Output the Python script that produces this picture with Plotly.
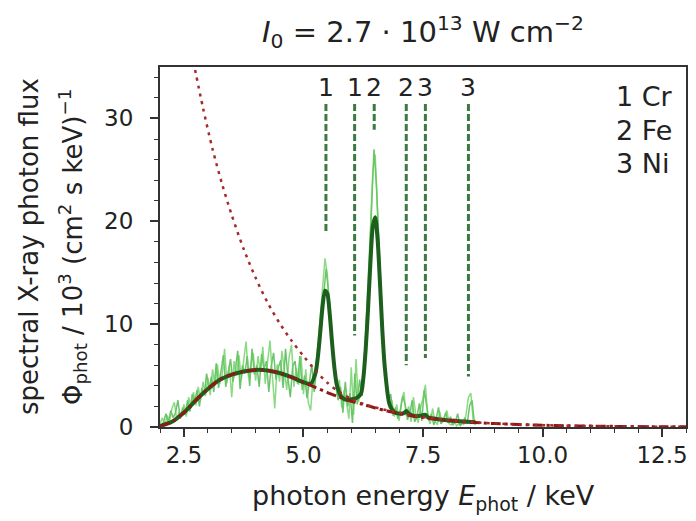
import plotly.graph_objects as go

# ---- measured X-ray spectra (two shots), channel width 0.05 keV ----
spec_a_start = 2.0
spec_b_start = 2.025
spec_step = 0.05
spec_a = [
    0.3, 0.9, 0.2, 1.1, 0.6, 1.8, 2.4, 0.7, 1.5, 1.0,
    2.2, 1.0, 2.9, 1.8, 3.4, 2.1, 3.9, 2.6, 4.4, 3.0,
    4.8, 3.1, 5.6, 4.0, 6.1, 4.2, 5.0, 7.6, 4.3, 6.0,
    2.9, 6.4, 5.0, 7.0, 4.6, 6.6, 8.3, 4.9, 5.9, 7.2,
    4.5, 6.9, 5.3, 7.8, 4.2, 6.2, 8.4, 5.0, 1.8, 6.1,
    4.4, 7.4, 5.2, 3.6, 6.8, 8.0, 3.9, 5.7, 4.1, 6.9,
    3.2, 5.6, 2.4, 1.6, 4.7, 5.5, 7.8, 10.6, 14.2, 16.4,
    14.8, 11.2, 7.4, 5.9, 3.2, 4.6, 1.9, 3.6, 2.4, 0.8,
    5.8, 1.2, 6.6, 2.4, 3.8, 5.1, 8.9, 13.6, 19.2, 24.8,
    26.5, 21.0, 15.2, 10.1, 5.2, 4.0, 1.8, 2.6, 1.0, 2.2,
    0.6, 2.4, 3.4, 1.1, 2.0, 0.5, 2.9, 1.2, 0.4, 1.9,
    2.8, 4.1, 1.0, 0.3, 1.8, 0.6, 0.2, 1.5, 0.4, 0.9,
    1.6, 0.3, 0.2, 0.8, 0.1, 0.3, 0.6, 0.2, 1.2, 2.9,
    3.3, 0.6, 0.2,
]
spec_b = [
    0.0, 0.5, 1.3, 0.4, 1.6, 0.9, 1.4, 2.6, 0.8, 1.9,
    1.2, 2.6, 1.5, 3.2, 2.4, 3.6, 2.0, 3.8, 3.1, 5.2,
    3.6, 4.9, 3.4, 6.2, 3.8, 5.4, 7.0, 3.9, 5.5, 6.6,
    4.4, 5.5, 7.4, 3.7, 6.0, 5.2, 6.9, 4.0, 7.6, 5.1,
    6.0, 3.9, 7.1, 5.6, 6.4, 3.4, 5.9, 7.2, 4.6, 5.8,
    6.5, 3.8, 7.6, 4.8, 2.9, 5.9, 6.4, 4.2, 6.9, 3.6,
    5.0, 2.8, 4.4, 6.1, 3.4, 5.9, 8.6, 11.2, 13.0, 15.4,
    13.1, 9.0, 7.2, 4.1, 2.6, 3.9, 1.4, 4.4, 2.0, 3.3,
    0.4, 5.2, 2.2, 4.6, 3.0, 6.4, 10.2, 15.1, 21.4, 27.0,
    23.6, 17.8, 12.2, 7.0, 5.1, 2.5, 3.2, 1.1, 1.9, 0.8,
    1.6, 3.0, 2.2, 0.7, 1.4, 2.6, 0.5, 1.0, 2.3, 0.6,
    3.6, 1.9, 0.6, 1.3, 0.2, 0.8, 1.9, 0.3, 0.7, 1.4,
    0.4, 1.0, 0.2, 0.5, 1.3, 0.1, 0.4, 0.9, 0.3, 2.1,
    2.6, 0.4,
]

# ---- fitted spectrum (continuum + K lines) ----
fit_e = [2.0, 2.25, 2.5, 2.75, 3.0, 3.25, 3.5, 3.75, 4.0, 4.25,
         4.5, 4.75, 5.0, 5.15, 5.25, 5.3, 5.35, 5.4, 5.45, 5.5,
         5.55, 5.6, 5.65, 5.7, 5.8, 5.9, 6.0, 6.1, 6.2, 6.25,
         6.3, 6.35, 6.4, 6.45, 6.5, 6.55, 6.6, 6.65, 6.7, 6.8,
         6.9, 7.0, 7.1, 7.15, 7.2, 7.35, 7.5, 7.55, 7.6, 7.75,
         8.0, 8.25, 8.6]
fit_v = [0.1, 0.5, 1.4, 2.6, 3.7, 4.6, 5.1, 5.4, 5.55, 5.5,
         5.25, 4.85, 4.35, 4.2, 5.2, 6.75, 9.15, 11.75, 13.25, 12.95,
         10.95, 8.1, 5.65, 4.05, 2.9, 2.65, 2.7, 2.8, 3.2, 4.65,
         7.45, 11.4, 15.95, 19.5, 20.4, 18.3, 14.05, 9.4, 5.85, 2.2,
         1.45, 1.3, 1.35, 1.55, 1.3, 1.05, 1.15, 1.2, 0.95, 0.8,
         0.65, 0.56, 0.45]

# ---- bremsstrahlung continuum behind the filter ----
cont_e = [2.0, 2.25, 2.5, 2.75, 3.0, 3.25, 3.5, 3.75, 4.0, 4.25,
          4.5, 4.75, 5.0, 5.25, 5.5, 5.75, 6.0, 6.25, 6.5, 6.75,
          7.0, 7.25, 7.5, 7.75, 8.0, 8.5, 9.0, 9.5, 10.0, 10.5,
          11.0, 11.5, 12.0, 12.5, 13.0]
cont_v = [0.1, 0.5, 1.4, 2.6, 3.7, 4.6, 5.1, 5.4, 5.55, 5.5,
          5.25, 4.85, 4.35, 3.85, 3.35, 2.9, 2.5, 2.2, 1.85, 1.55,
          1.3, 1.1, 0.92, 0.77, 0.65, 0.46, 0.33, 0.24, 0.17, 0.12,
          0.09, 0.06, 0.04, 0.03, 0.02]

# ---- unattenuated bremsstrahlung ----
brems_e = [2.7, 2.9, 3.1, 3.3, 3.5, 3.75, 4.0, 4.25, 4.5, 4.75,
           5.0, 5.25, 5.5, 5.75, 6.0, 6.25, 6.5, 7.0, 7.5, 8.0,
           8.5, 9.0, 10.0, 11.0, 12.0, 13.0]
brems_v = [35.5, 31.0, 27.0, 23.6, 20.6, 17.3, 14.5, 12.1, 10.1, 8.4,
           6.9, 5.5, 4.3, 3.4, 2.75, 2.25, 1.9, 1.38, 0.97, 0.68,
           0.48, 0.34, 0.18, 0.09, 0.045, 0.025]

# ---- characteristic line positions (keV) and marker extents ----
line_e = [5.47, 6.07, 6.48, 7.15, 7.55, 8.45]
line_label = ["1", "1", "2", "2", "3", "3"]
line_bottom = [19.0, 8.9, 28.9, 6.0, 6.7, 4.9]
line_top = 31.4
elements = ["1 Cr", "2 Fe", "3 Ni"]

spec_a_e = [round(spec_a_start + spec_step * i, 3) for i in range(len(spec_a))]
spec_b_e = [round(spec_b_start + spec_step * i, 3) for i in range(len(spec_b))]

FONT = "DejaVu Sans, Liberation Sans, Arial, sans-serif"
TXT = "#222222"
AX = "#333333"

fig = go.Figure()

fig.add_trace(go.Scatter(x=spec_b_e, y=spec_b, mode="lines",
                         line=dict(color="rgba(60,175,60,0.75)", width=1.5)))
fig.add_trace(go.Scatter(x=spec_a_e, y=spec_a, mode="lines",
                         line=dict(color="rgba(100,205,90,0.75)", width=1.5)))
fig.add_trace(go.Scatter(x=fit_e, y=fit_v, mode="lines",
                         line=dict(color="#1d5f1d", width=4, shape="spline", smoothing=0.7)))
fig.add_trace(go.Scatter(x=cont_e, y=cont_v, mode="lines",
                         line=dict(color="#8e1a18", width=3, dash="10px,4px,3px,4px",
                                   shape="spline", smoothing=0.8)))
fig.add_trace(go.Scatter(x=brems_e, y=brems_v, mode="lines",
                         line=dict(color="#a52a2a", width=2.5, dash="3px,5px",
                                   shape="spline", smoothing=0.8)))

# vertical dashed markers for the K lines
vx, vy = [], []
for e, b in zip(line_e, line_bottom):
    vx += [e, e, None]
    vy += [line_top, b, None]
fig.add_trace(go.Scatter(x=vx, y=vy, mode="lines",
                         line=dict(color="#3c7a42", width=3, dash="7px,3px")))

annotations = []
for e, lab in zip(line_e, line_label):
    annotations.append(dict(x=e, y=33.0, xref="x", yref="y", text=lab, showarrow=False,
                            xanchor="center", yanchor="middle",
                            font=dict(family=FONT, size=25, color=TXT)))

for i, t in enumerate(elements):
    annotations.append(dict(x=(616 - 160) / 528, y=1 - (96 + 34 * i - 67) / 360,
                            xref="paper", yref="paper", text=t, showarrow=False,
                            xanchor="left", yanchor="middle",
                            font=dict(family=FONT, size=27, color=TXT)))

# axis titles
annotations.append(dict(x=0.5, y=0, xref="paper", yref="paper", yshift=-70,
                        text="photon energy <i>E</i><sub>phot</sub> / keV", showarrow=False,
                        xanchor="center", yanchor="middle",
                        font=dict(family=FONT, size=27, color=TXT)))
annotations.append(dict(x=0, y=0.5, xref="paper", yref="paper", xshift=-131,
                        text="spectral X-ray photon flux", textangle=-90, showarrow=False,
                        xanchor="center", yanchor="middle",
                        font=dict(family=FONT, size=26, color=TXT)))
annotations.append(dict(x=0, y=0.5, xref="paper", yref="paper", xshift=-88,
                        text="Φ<sub>phot</sub> / 10<sup>3</sup> (cm<sup>2</sup> s keV)<sup>−1</sup>",
                        textangle=-90, showarrow=False,
                        xanchor="center", yanchor="middle",
                        font=dict(family=FONT, size=26, color=TXT)))

fig.update_layout(
    width=696, height=521,
    margin=dict(l=160, r=8, t=67, b=94),
    plot_bgcolor="white", paper_bgcolor="white",
    showlegend=False,
    font=dict(family=FONT, size=23, color=TXT),
    title=dict(text="<i>I</i><sub>0</sub> = 2.7 · 10<sup>13</sup> W cm<sup>−2</sup>",
               x=0.5, xref="paper", y=1 - 32 / 521, yanchor="middle",
               font=dict(family=FONT, size=29, color=TXT)),
    annotations=annotations,
)
fig.update_xaxes(range=[2, 13], tick0=2.5, dtick=2.5, tickformat=".1f",
                 ticks="outside", ticklen=8, tickwidth=1.5, tickcolor=AX,
                 ticklabelstandoff=-2,
                 minor=dict(dtick=0.5, tick0=2.5, ticks="outside", ticklen=4,
                            tickwidth=1.2, tickcolor=AX),
                 showline=True, linewidth=2, linecolor=AX, mirror=True,
                 showgrid=False, zeroline=False)
fig.update_yaxes(range=[0, 35], tick0=0, dtick=10,
                 ticks="outside", ticklen=8, tickwidth=1.5, tickcolor=AX,
                 ticklabelstandoff=12,
                 minor=dict(dtick=2, ticks="outside", ticklen=4,
                            tickwidth=1.2, tickcolor=AX),
                 showline=True, linewidth=2, linecolor=AX, mirror=True,
                 showgrid=False, zeroline=False)

fig.write_html("out.html")
